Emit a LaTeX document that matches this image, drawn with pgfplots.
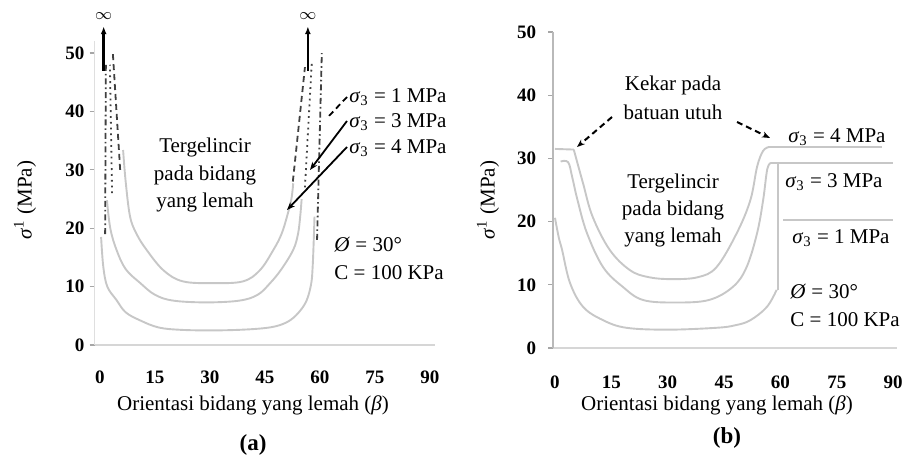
\documentclass[border=0pt]{standalone}
\usepackage{pgfplots}
\pgfplotsset{compat=1.18}
\usepackage{fontspec}
\setmainfont{Liberation Serif}
\usetikzlibrary{arrows.meta}
\definecolor{curve}{gray}{0.78}
\definecolor{axl}{gray}{0.84}
\newcommand\fs{\fontsize{10.5}{12}\selectfont}
\newcommand\sig[1]{\textit{σ}\textsubscript{3} = #1 MPa}
\pgfplotsset{
  mystyle/.style={
    scale only axis, clip=false,
    ymin=0,
    xtick={0,15,30,45,60,75,90},
    ytick={0,10,20,30,40,50},
    axis x line=bottom, axis y line=left,
    axis line style={-, draw=axl, line width=1.4pt},
    xtick style={draw=none},
    ytick style={draw=gray!70, line width=0.6pt},
    tick align=outside, major tick length=2.5pt,
    tick label style={font=\fontsize{9.5}{11}\selectfont\bfseries},
    /pgf/number format/assume math mode=true,
    xticklabel style={yshift=-7pt},
  },
  cv/.style={draw=curve, line width=0.95pt, smooth, tension=0.6},
  asy/.style={draw=black!75, line width=0.9pt},
}
\begin{document}
\begin{tikzpicture}
\path[use as bounding box] (0,0) rectangle (452.5pt,233.5pt);
% ---------------- panel (a)
\begin{axis}[mystyle, at={(47.25pt,61pt)}, anchor=south west,
  width=170.5pt, height=151.8pt, xmin=-1.5, xmax=91.5, ymax=52,
  yticklabel style={xshift=1pt}, y axis line style={draw=gray!25, line width=0.8pt}]
\addplot[cv] coordinates {(0.3,18.5) (0.9,13.4) (2,10) (4.5,7.7) (7,5.6) (11,4.2) (16,3.0) (22,2.6) (30,2.5) (38,2.6) (45,2.9) (49,3.4) (52,4.3) (54.5,5.8) (56.4,7.7) (57.6,10.5) (58,13.4) (58.3,18) (58.5,22)};
\addplot[cv] coordinates {(1.9,24.8) (2.8,20) (4.5,16.3) (7,13) (11,10.6) (15,8.6) (20,7.6) (29,7.3) (38,7.6) (43,8.6) (46.4,10.6) (49.5,13) (52.7,16.3) (54,19) (54.6,22) (55,25)};
\addplot[cv] coordinates {(6.3,33.4) (7,28) (8.2,22) (10,19) (12.7,16.3) (17.3,12.8) (22.6,10.9) (31,10.6) (39,10.9) (43.6,12.8) (47.3,16.3) (49.5,19) (51,22) (52.2,25) (52.7,27.7)};
% asymptotic parts
\addplot[asy, dash pattern=on 3pt off 1.5pt on 0.8pt off 1.5pt] coordinates {(1.4,19) (1.6,48)};
\addplot[asy, dash pattern=on 3pt off 1.5pt on 0.8pt off 1.5pt] coordinates {(59.2,18) (60.5,50)};
\addplot[asy, dotted] coordinates {(3.3,26) (2.7,48)};
\addplot[asy, dotted] coordinates {(55.9,27) (57.8,48.8)};
\addplot[asy, densely dashed] coordinates {(5.5,30) (3.5,50)};
\addplot[asy, densely dashed] coordinates {(52.6,28) (55.9,47.6)};
\draw[-{Latex[length=4pt]}, line width=1.3pt] (axis cs:1.0,47) -- (axis cs:1.0,54.6);
\draw[-{Latex[length=4pt]}, line width=1.3pt] (axis cs:56.7,47) -- (axis cs:56.7,54.6);
\node[font=\footnotesize] at (axis cs:1.0,56.4) {$\infty$};
\node[font=\footnotesize] at (axis cs:56.7,56.4) {$\infty$};
\end{axis}
% ---------------- panel (b)
\begin{axis}[mystyle, at={(276.55pt,59.5pt)}, anchor=south west,
  width=171.9pt, height=158pt, xmin=-0.5, xmax=91, ymax=50,
  yticklabel style={xshift=-2.5pt}, xticklabel style={yshift=-1pt},
  y axis line style={draw=gray!55, line width=0.8pt}]
\addplot[cv] coordinates {(0,20.6) (1,17.5) (1.9,15.5) (4,10.3) (7.5,6.5) (12.8,4.4) (19,3.2) (30,2.9) (43,3.2) (48,3.6) (52,4.4) (56.4,6.5) (59,9.2)};
\addplot[cv, smooth=false] coordinates {(59.4,9.2) (59.4,29.3)};
\addplot[cv, smooth=false] coordinates {(60.7,20.3) (90,20.3)};
\addplot[cv] coordinates {(1.5,29.5) (3.5,29.4) (4.6,27) (6,23.4) (8.5,18.2) (12.8,12.8) (18,9.7) (23.4,7.6) (32,7.2) (41,7.6) (47.4,9.7) (51,12.8) (53.8,18.2) (55.4,23.4) (56.5,28.3) (57.5,29.3)};
\addplot[cv, smooth=false] coordinates {(57.5,29.3) (90,29.3)};
\addplot[cv] coordinates {(5,31.4) (6.1,29) (7.5,26) (10,20.8) (14.6,15.5) (20,12.3) (25,11.2) (31,10.9) (38,11.2) (43,12.8) (48.4,18.2) (52,23.4) (53.8,28.7) (55.4,31.2) (57,31.8)};
\addplot[cv, smooth=false] coordinates {(0,31.5) (5,31.4)};
\addplot[cv, smooth=false] coordinates {(57,31.8) (87,31.8)};
\end{axis}
% ---------------- texts (pixel coordinates)
\begin{scope}[x=0.5pt, y=-0.5pt, yshift=233.5pt]
\node[font=\fs] at (205,147) {Tergelincir};
\node[font=\fs] at (205,175) {pada bidang};
\node[font=\fs] at (205,202) {yang lemah};
\node[font=\fs, anchor=west, inner sep=0] at (349,97) {\sig{1}};
\node[font=\fs, anchor=west, inner sep=0] at (349,122) {\sig{3}};
\node[font=\fs, anchor=west, inner sep=0] at (349,148) {\sig{4}};
\node[font=\fs, anchor=west, inner sep=0] at (334,245) {\textit{Ø} = 30°};
\node[font=\fs, anchor=west, inner sep=0] at (334,273) {C = 100 KPa};
\draw[densely dashed, line width=0.9pt] (347,97) -- (328,117);
\draw[-{Stealth[length=4pt]}, line width=0.9pt] (347,121) -- (310,170);
\draw[-{Stealth[length=4pt]}, line width=0.9pt] (347,147) -- (287,210);
\node[font=\fs] at (253,405) {Orientasi bidang yang lemah (\textit{β})};
\node[font=\fontsize{11.5}{13}\selectfont\bfseries] at (253,445) {(a)};
\node[font=\fs, rotate=90] at (25,200) {\textit{σ}\textsuperscript{1} (MPa)};
% (b)
\node[font=\fs] at (673,85) {Kekar pada};
\node[font=\fs] at (673,112) {batuan utuh};
\draw[densely dashed, -{Stealth[length=4pt]}, line width=1pt] (612,117) -- (577,147);
\draw[densely dashed, -{Stealth[length=4pt]}, line width=1pt] (737,122) -- (770,138);
\node[font=\fs] at (673,183) {Tergelincir};
\node[font=\fs] at (673,210) {pada bidang};
\node[font=\fs] at (673,237) {yang lemah};
\node[font=\fs, anchor=west, inner sep=0] at (788,137) {\sig{4}};
\node[font=\fs, anchor=west, inner sep=0] at (785,182) {\sig{3}};
\node[font=\fs, anchor=west, inner sep=0] at (792,238) {\sig{1}};
\node[font=\fs, anchor=west, inner sep=0] at (790,292) {\textit{Ø} = 30°};
\node[font=\fs, anchor=west, inner sep=0] at (790,320) {C = 100 KPa};
\node[font=\fs] at (717,405) {Orientasi bidang yang lemah (\textit{β})};
\node[font=\fontsize{11.5}{13}\selectfont\bfseries] at (727,438) {(b)};
\node[font=\fs, rotate=90] at (488,200) {\textit{σ}\textsuperscript{1} (MPa)};
\end{scope}
\end{tikzpicture}
\end{document}
